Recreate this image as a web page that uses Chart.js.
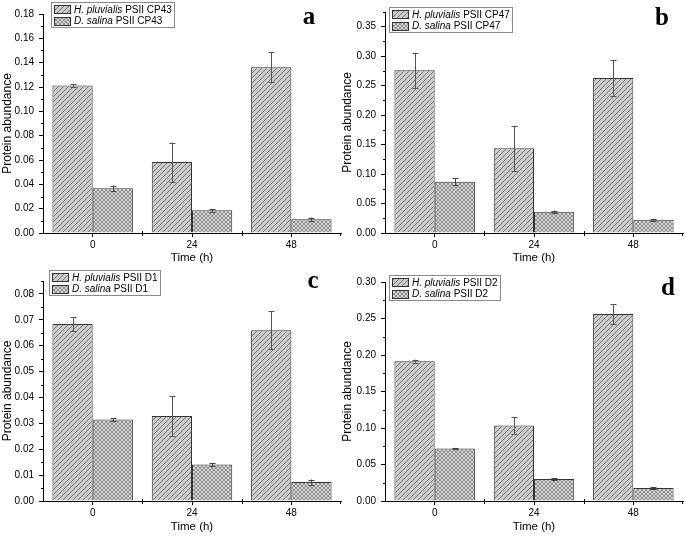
<!DOCTYPE html>
<html><head><meta charset="utf-8">
<script src="https://cdn.jsdelivr.net/npm/chart.js@4.4.1/dist/chart.umd.min.js"></script>
<style>
html,body{margin:0;padding:0;background:#fff;}
body{width:685px;height:538px;position:relative;overflow:hidden;}
canvas{position:absolute;display:block;}
</style></head><body>
<canvas id="pa" width="343" height="269" style="left:0;top:0"></canvas>
<canvas id="pb" width="345" height="269" style="left:340px;top:0"></canvas>
<canvas id="pc" width="343" height="270" style="left:0;top:268px"></canvas>
<canvas id="pd" width="345" height="270" style="left:340px;top:268px"></canvas>
<script>
// ---------------- data ----------------
const timeLabels = ['0', '24', '48'];
const speciesNames = ['H. pluvialis', 'D. salina'];
const proteinNames = ['PSII CP43', 'PSII CP47', 'PSII D1', 'PSII D2'];
const panelLetters = ['a', 'b', 'c', 'd'];
const xTitle = 'Time (h)';
const yTitle = 'Protein abundance';

const cp43Hp = [0.1212, 0.0583, 0.1362];
const cp43HpErr = [0.0014, 0.016, 0.0123];
const cp43Ds = [0.0367, 0.0186, 0.0113];
const cp43DsErr = [0.0022, 0.001, 0.0014];

const cp47Hp = [0.276, 0.144, 0.263];
const cp47HpErr = [0.030, 0.038, 0.030];
const cp47Ds = [0.087, 0.036, 0.0226];
const cp47DsErr = [0.006, 0.002, 0.0015];

const d1Hp = [0.0684, 0.0328, 0.066];
const d1HpErr = [0.0027, 0.0076, 0.0073];
const d1Ds = [0.0315, 0.0141, 0.0073];
const d1DsErr = [0.0006, 0.0005, 0.001];

const d2Hp = [0.1916, 0.1033, 0.256];
const d2HpErr = [0.002, 0.012, 0.0137];
const d2Ds = [0.0718, 0.0302, 0.0178];
const d2DsErr = [0.001, 0.001, 0.0008];

const yMaxes = [0.18, 0.375, 0.085, 0.30];
const ySteps = [0.02, 0.05, 0.01, 0.05];

// ---------------- layout / style ----------------
const FONT = '"Liberation Sans", Arial, sans-serif';
Chart.defaults.font.family = FONT;
Chart.defaults.color = '#000';

const layouts = [
  {id:'pa', w:343, h:269, left:43, right:341, top:14, bottom:233, legend:{x:51, y:2}, letter:{x:309, y:24}},
  {id:'pb', w:345, h:269, left:45, right:343, top:12, bottom:233, legend:{x:49, y:7}, letter:{x:322, y:25}},
  {id:'pc', w:343, h:270, left:43, right:341, top:13, bottom:233, legend:{x:49, y:2}, letter:{x:313, y:20}},
  {id:'pd', w:345, h:270, left:45, right:343, top:14, bottom:233, legend:{x:49, y:7}, letter:{x:328, y:27}}
];

function makeHatch() {
  const s = 5, c = document.createElement('canvas');
  c.width = s; c.height = s;
  const g = c.getContext('2d');
  g.fillStyle = '#cdcdcd'; g.fillRect(0, 0, s, s);
  g.strokeStyle = '#6a6a6a'; g.lineWidth = 0.9;
  g.beginPath();
  g.moveTo(0, s); g.lineTo(s, 0);
  g.moveTo(-1, 1); g.lineTo(1, -1);
  g.moveTo(s - 1, s + 1); g.lineTo(s + 1, s - 1);
  g.stroke();
  return g.createPattern(c, 'repeat');
}
function makeCross() {
  const s = 4, c = document.createElement('canvas');
  c.width = s; c.height = s;
  const g = c.getContext('2d');
  g.fillStyle = '#ffffff'; g.fillRect(0, 0, s, s);
  g.fillStyle = '#8c8c8c';
  // checker-like cross-hatch cells
  g.fillRect(0, 0, 1, 1); g.fillRect(1, 1, 1, 1); g.fillRect(2, 2, 1, 1); g.fillRect(3, 3, 1, 1);
  g.fillRect(3, 0, 1, 1); g.fillRect(2, 1, 1, 1); g.fillRect(1, 2, 1, 1); g.fillRect(0, 3, 1, 1);
  g.fillStyle = '#d8d8d8';
  g.fillRect(1, 0, 2, 1); g.fillRect(0, 1, 1, 2); g.fillRect(3, 1, 1, 2); g.fillRect(1, 3, 2, 1);
  return g.createPattern(c, 'repeat');
}
const hatchFill = makeHatch();
const crossFill = makeCross();

const errorBarPlugin = {
  id: 'errorBars',
  afterDatasetsDraw(chart) {
    const ctx = chart.ctx, ys = chart.scales.y;
    ctx.save();
    chart.data.datasets.forEach((ds, i) => {
      const meta = chart.getDatasetMeta(i);
      ctx.strokeStyle = ds.errColor; ctx.lineWidth = 1;
      meta.data.forEach((el, j) => {
        const v = ds.data[j], e = ds.errors[j];
        const x = Math.round(el.x) + 0.5;
        const t = ys.getPixelForValue(v + e), b = ys.getPixelForValue(v - e);
        ctx.beginPath();
        ctx.moveTo(x, t); ctx.lineTo(x, b);
        ctx.moveTo(x - 3, Math.round(t) + 0.5); ctx.lineTo(x + 3, Math.round(t) + 0.5);
        ctx.moveTo(x - 3, Math.round(b) + 0.5); ctx.lineTo(x + 3, Math.round(b) + 0.5);
        ctx.stroke();
      });
    });
    ctx.restore();
  }
};

const minorTickPlugin = {
  id: 'minorTicks',
  afterDraw(chart, args, opts) {
    const ctx = chart.ctx, ys = chart.scales.y, xs = chart.scales.x, ca = chart.chartArea;
    ctx.save();
    ctx.strokeStyle = '#000'; ctx.lineWidth = 1;
    ctx.beginPath();
    const step = opts.step;
    for (let v = step / 2; v < ys.max + 1e-9; v += step) {
      const y = Math.round(ys.getPixelForValue(v)) + 0.5;
      ctx.moveTo(ca.left - 2, y); ctx.lineTo(ca.left, y);
    }
    const n = chart.data.labels.length;
    for (let k = 1; k < n; k++) {
      const x = Math.round((xs.getPixelForValue(k - 1) + xs.getPixelForValue(k)) / 2) + 0.5;
      ctx.moveTo(x, ca.bottom - 2); ctx.lineTo(x, ca.bottom + 3);
    }
    const xr = Math.round(ca.right) - 0.5;
    ctx.moveTo(xr, ca.bottom); ctx.lineTo(xr, ca.bottom + 3);
    ctx.stroke();
    ctx.restore();
  }
};

const legendPlugin = {
  id: 'hatchLegend',
  afterDraw(chart, args, opts) {
    const ctx = chart.ctx;
    ctx.save();
    const itFont = 'italic 10px ' + FONT, rgFont = '10px ' + FONT;
    const rowH = 11.5, swW = 16, swH = 8;
    let maxW = 0;
    const rows = chart.data.datasets.map(ds => {
      ctx.font = itFont; const w1 = ctx.measureText(ds.speciesName + ' ').width;
      ctx.font = rgFont; const w2 = ctx.measureText(ds.proteinName).width;
      maxW = Math.max(maxW, w1 + w2);
      return {ds, w1};
    });
    const bx = opts.x + 0.5, by = opts.y + 0.5;
    const bw = Math.round(2 + swW + 3 + maxW + 4), bh = Math.round(rows.length * rowH + 1.5);
    ctx.fillStyle = '#fff'; ctx.fillRect(bx, by, bw, bh);
    ctx.strokeStyle = '#8a8a8a'; ctx.lineWidth = 1; ctx.strokeRect(bx, by, bw, bh);
    rows.forEach((r, i) => {
      const cy = by + 1 + rowH * i + rowH / 2;
      const sx = Math.round(bx + 2), sy = Math.round(cy - swH / 2);
      ctx.fillStyle = r.ds.backgroundColor; ctx.fillRect(sx, sy, swW, swH);
      ctx.strokeStyle = '#333'; ctx.strokeRect(sx + 0.5, sy + 0.5, swW, swH);
      ctx.fillStyle = '#000'; ctx.textBaseline = 'middle'; ctx.textAlign = 'left';
      const tx = sx + swW + 4;
      ctx.font = itFont; ctx.fillText(r.ds.speciesName, tx, cy + 0.5);
      ctx.font = rgFont; ctx.fillText(r.ds.proteinName, tx + r.w1, cy + 0.5);
    });
    ctx.restore();
  }
};

const letterPlugin = {
  id: 'panelLetter',
  afterDraw(chart, args, opts) {
    const ctx = chart.ctx;
    ctx.save();
    ctx.font = 'bold 25px "Liberation Serif", "Times New Roman", serif';
    ctx.fillStyle = '#000'; ctx.textAlign = 'center'; ctx.textBaseline = 'alphabetic';
    ctx.fillText(opts.text, opts.x, opts.y);
    ctx.restore();
  }
};

const panelSeries = [
  [cp43Hp, cp43HpErr, cp43Ds, cp43DsErr],
  [cp47Hp, cp47HpErr, cp47Ds, cp47DsErr],
  [d1Hp, d1HpErr, d1Ds, d1DsErr],
  [d2Hp, d2HpErr, d2Ds, d2DsErr]
];

layouts.forEach((L, p) => {
  const [hp, hpErr, ds, dsErr] = panelSeries[p];
  const step = ySteps[p];
  new Chart(document.getElementById(L.id), {
    type: 'bar',
    data: {
      labels: timeLabels,
      datasets: [
        {label: speciesNames[0] + ' ' + proteinNames[p], speciesName: speciesNames[0], proteinName: proteinNames[p],
         data: hp, errors: hpErr, backgroundColor: hatchFill, borderColor: '#333', borderWidth: 1,
         errColor: '#555', barPercentage: 1, categoryPercentage: 0.81},
        {label: speciesNames[1] + ' ' + proteinNames[p], speciesName: speciesNames[1], proteinName: proteinNames[p],
         data: ds, errors: dsErr, backgroundColor: crossFill, borderColor: '#333', borderWidth: 1,
         errColor: '#444', barPercentage: 1, categoryPercentage: 0.81}
      ]
    },
    options: {
      responsive: false, animation: false,
      layout: {padding: {left: 0, top: L.top, right: L.w - L.right, bottom: 0}},
      plugins: {
        legend: {display: false}, tooltip: {enabled: false},
        hatchLegend: L.legend,
        panelLetter: {text: panelLetters[p], x: L.letter.x, y: L.letter.y},
        minorTicks: {step: step}
      },
      scales: {
        x: {
          grid: {display: true, drawOnChartArea: false, offset: false, tickLength: 4, color: '#000'},
          border: {display: true, color: '#000', width: 1},
          ticks: {font: {size: 10}, color: '#000', padding: 2, maxRotation: 0},
          title: {display: true, text: xTitle, font: {size: 11.5}, color: '#000', padding: {top: 0, bottom: 4}},
          afterFit: s => { s.height = L.h - L.bottom; }
        },
        y: {
          min: 0, max: yMaxes[p],
          grid: {display: true, drawOnChartArea: false, tickLength: 4, color: '#000'},
          border: {display: true, color: '#000', width: 1},
          ticks: {stepSize: step, font: {size: 10}, color: '#000', padding: 5,
                  callback: v => v.toFixed(2)},
          afterBuildTicks: s => {
            s.ticks = s.ticks.filter(t => Math.abs(t.value / step - Math.round(t.value / step)) < 1e-6);
          },
          title: {display: true, text: yTitle, font: {size: 12}, color: '#000', padding: {top: 0, bottom: 0}},
          afterFit: s => { s.width = L.left; }
        }
      }
    },
    plugins: [errorBarPlugin, minorTickPlugin, legendPlugin, letterPlugin]
  });
});
</script>
</body></html>
